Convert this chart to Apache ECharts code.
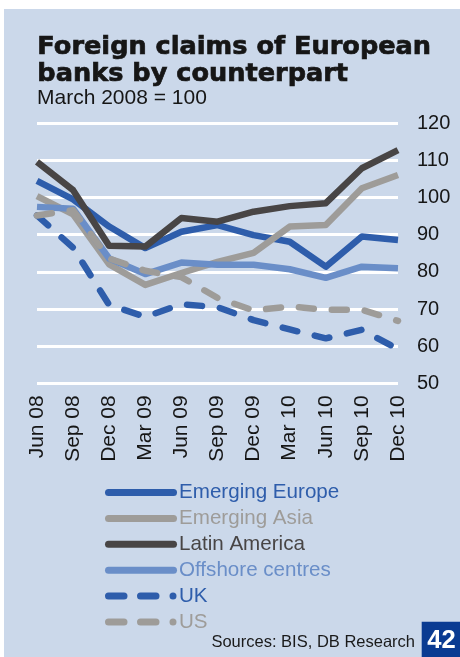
<!DOCTYPE html>
<html>
<head>
<meta charset="utf-8">
<script src="https://cdn.jsdelivr.net/npm/echarts@6/dist/echarts.min.js"></script>
<style>
  html, body { margin: 0; padding: 0; background: #ffffff; }
  #chart { position: absolute; left: 4px; top: 9px; width: 456px; height: 648px; }
</style>
</head>
<body>
<div id="chart"></div>
<script>
// Quarterly index, March 2008 = 100
const quarters = ['Jun 08', 'Sep 08', 'Dec 08', 'Mar 09', 'Jun 09', 'Sep 09', 'Dec 09', 'Mar 10', 'Jun 10', 'Sep 10', 'Dec 10'];
const emergingEurope = [104.5, 99.5, 92.2, 86.4, 90.8, 92.6, 89.9, 88.1, 81.4, 89.5, 88.6];
const emergingAsia   = [100.4, 95.5, 82.0, 76.5, 79.7, 82.7, 85.1, 92.2, 92.6, 102.5, 106.1];
const latinAmerica   = [109.6, 102.0, 87.0, 86.8, 94.5, 93.5, 96.2, 97.7, 98.5, 107.9, 112.8];
const offshore       = [97.5, 97.0, 83.6, 79.4, 82.5, 81.9, 81.9, 80.7, 78.4, 81.4, 81.0];
const uk             = [95.2, 86.5, 71.1, 67.9, 71.3, 70.5, 67.0, 64.5, 62.1, 64.4, 59.2];
const us             = [95.2, 96.6, 83.6, 80.3, 78.6, 73.0, 69.6, 70.7, 69.8, 69.8, 66.8];
const yTicks = { min: 50, max: 120, step: 10 };

const BLUE = '#2e5dab';
const GREY = '#9e9c99';
const DARK = '#484545';
const LIGHTBLUE = '#6a8ec8';
const TEXT = '#161616';

// Legend keys: a rounded bar for solid lines, two dashes and a dot for dashed ones
const SOLID_KEY = 'path://M3.5,0H68.5A3.5,3.5 0 0 1 68.5,7H3.5A3.5,3.5 0 0 1 3.5,0Z';
const DASHED_KEY = 'path://M3.5,0H19A3.5,3.5 0 0 1 19,7H3.5A3.5,3.5 0 0 1 3.5,0Z' +
  'M35.5,0H51A3.5,3.5 0 0 1 51,7H35.5A3.5,3.5 0 0 1 35.5,0Z' +
  'M68,0A3.5,3.5 0 0 1 68,7A3.5,3.5 0 0 1 68,0Z' +
  'M0,3.5L0,3.5M72,3.5L72,3.5';

function lineSeries(name, data, color, dashed) {
  return {
    name: name,
    type: 'line',
    data: data,
    symbol: 'none',
    showSymbol: false,
    lineStyle: {
      color: color,
      width: 6.5,
      type: dashed ? [15, 18] : 'solid',
      cap: dashed ? 'round' : 'butt',
      join: 'round'
    },
    itemStyle: { color: color },
    emphasis: { disabled: true },
    z: 3
  };
}

const chart = echarts.init(document.getElementById('chart'), null, { renderer: 'canvas' });

chart.setOption({
  backgroundColor: '#cbd8ea',
  animation: false,
  grid: { left: 33, right: 62, top: 114.3, bottom: 273.7, containLabel: false },
  xAxis: {
    type: 'category',
    data: quarters,
    boundaryGap: false,
    axisLine: { show: false },
    axisTick: { show: false },
    splitLine: { show: false },
    axisLabel: {
      rotate: 90,
      margin: 12,
      interval: 0,
      color: TEXT,
      fontFamily: 'Liberation Sans',
      fontSize: 21
    }
  },
  yAxis: {
    type: 'value',
    position: 'right',
    min: yTicks.min,
    max: yTicks.max,
    interval: yTicks.step,
    axisLine: { show: false },
    axisTick: { show: false },
    splitLine: { show: true, lineStyle: { color: '#ffffff', width: 3 } },
    axisLabel: {
      margin: 19,
      color: TEXT,
      fontFamily: 'Liberation Sans',
      fontSize: 20,
      align: 'left'
    }
  },
  legend: {
    orient: 'vertical',
    left: 96,
    top: 468,
    itemWidth: 72,
    itemHeight: 7,
    itemGap: 4.9,
    selectedMode: false,
    textStyle: { fontFamily: 'Liberation Sans', fontSize: 20.6, lineHeight: 20, padding: [0, 0, 0, -3] },
    data: [
      { name: 'Emerging Europe', icon: SOLID_KEY, textStyle: { color: BLUE } },
      { name: 'Emerging Asia', icon: SOLID_KEY, textStyle: { color: GREY } },
      { name: 'Latin America', icon: SOLID_KEY, textStyle: { color: DARK } },
      { name: 'Offshore centres', icon: SOLID_KEY, textStyle: { color: LIGHTBLUE } },
      { name: 'UK', icon: DASHED_KEY, textStyle: { color: BLUE } },
      { name: 'US', icon: DASHED_KEY, textStyle: { color: GREY } }
    ]
  },
  series: [
    lineSeries('Emerging Europe', emergingEurope, BLUE, false),
    lineSeries('Emerging Asia', emergingAsia, GREY, false),
    lineSeries('Latin America', latinAmerica, DARK, false),
    lineSeries('Offshore centres', offshore, LIGHTBLUE, false),
    lineSeries('UK', uk, BLUE, true),
    lineSeries('US', us, GREY, true)
  ],
  graphic: [
    {
      type: 'text', left: 33, top: 25,
      style: { text: 'Foreign claims of European', fill: '#161616', stroke: '#161616', lineWidth: 0.7, font: 'bold 25.6px "DejaVu Sans"' }
    },
    {
      type: 'text', left: 33, top: 51.7,
      style: { text: 'banks by counterpart', fill: '#161616', stroke: '#161616', lineWidth: 0.7, font: 'bold 25.6px "DejaVu Sans"' }
    },
    {
      type: 'text', left: 33, top: 79,
      style: { text: 'March 2008 = 100', fill: '#161616', font: '21px "Liberation Sans"' }
    },
    {
      type: 'text', right: 45, top: 625,
      style: { text: 'Sources: BIS, DB Research', fill: '#1a1a1a', font: '16.5px "Liberation Sans"' }
    },
    {
      type: 'rect', shape: { x: 417.7, y: 612.7, width: 40, height: 36 },
      style: { fill: '#0a3b92' }
    },
    {
      type: 'text', x: 437.5, y: 632,
      style: { text: '42', fill: '#ffffff', font: 'bold 25.6px "Liberation Sans"', align: 'center', verticalAlign: 'middle' }
    }
  ]
});
</script>
</body>
</html>
